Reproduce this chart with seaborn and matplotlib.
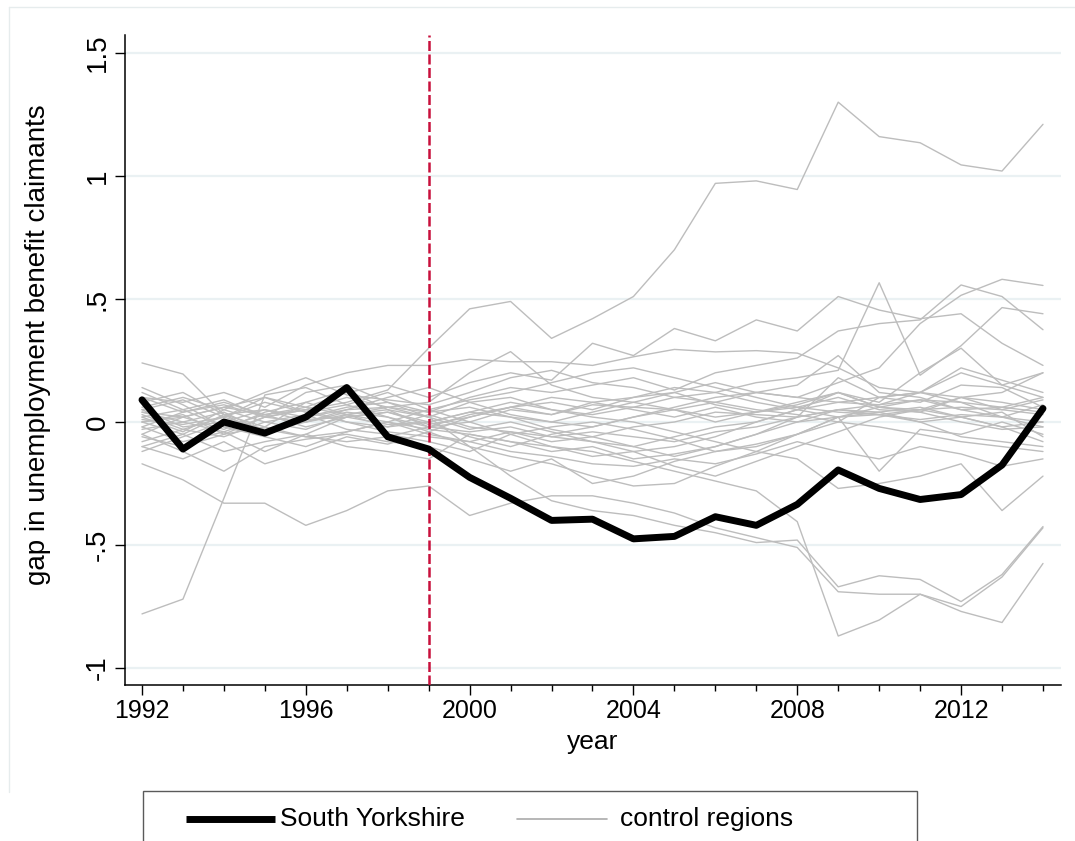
import matplotlib
matplotlib.use("Agg")
import matplotlib.pyplot as plt
from matplotlib.patches import Rectangle
from matplotlib.lines import Line2D
from matplotlib.ticker import MultipleLocator
import numpy as np
import pandas as pd
import seaborn as sns

# years covered
years = list(range(1992, 2015))

# treated region
south_yorkshire = [0.09, -0.11, 0.0, -0.045, 0.02, 0.14, -0.06, -0.11, -0.225, -0.31, -0.40, -0.395,
                   -0.475, -0.465, -0.385, -0.42, -0.335, -0.195, -0.27, -0.315, -0.295, -0.175, 0.055]

# placebo gaps for the control regions
control_gaps = [
    [0.04, 0.02, 0.06, 0.03, 0.05, 0.08, 0.13, 0.30, 0.46, 0.49, 0.34, 0.42, 0.51, 0.70, 0.97, 0.98, 0.945, 1.30, 1.16, 1.135, 1.045, 1.02, 1.21],
    [-0.78, -0.72, -0.31, 0.11, 0.14, 0.07, 0.02, -0.04, 0.02, 0.06, 0.03, 0.08, 0.10, 0.12, 0.07, 0.04, 0.08, 0.12, 0.06, 0.09, 0.05, 0.02, 0.07],
    [-0.17, -0.235, -0.33, -0.33, -0.42, -0.36, -0.28, -0.26, -0.38, -0.33, -0.30, -0.30, -0.33, -0.37, -0.43, -0.47, -0.51, -0.69, -0.70, -0.70, -0.75, -0.63, -0.43],
    [0.24, 0.195, 0.03, -0.05, 0.02, 0.06, 0.08, 0.02, -0.10, -0.22, -0.32, -0.36, -0.38, -0.42, -0.45, -0.49, -0.48, -0.67, -0.625, -0.64, -0.73, -0.62, -0.425],
    [-0.10, -0.05, -0.12, -0.08, -0.05, -0.10, -0.12, -0.15, -0.05, -0.08, -0.10, -0.12, -0.16, -0.20, -0.24, -0.28, -0.405, -0.87, -0.805, -0.70, -0.77, -0.815, -0.575],
    [0.05, 0.09, 0.02, 0.10, 0.06, 0.12, 0.15, 0.10, 0.16, 0.20, 0.17, 0.32, 0.27, 0.38, 0.33, 0.415, 0.37, 0.51, 0.455, 0.42, 0.44, 0.32, 0.23],
    [0.10, 0.08, 0.12, 0.06, 0.15, 0.20, 0.23, 0.23, 0.255, 0.245, 0.245, 0.23, 0.265, 0.295, 0.285, 0.29, 0.28, 0.22, 0.14, 0.12, 0.10, 0.05, 0.09],
    [0.00, -0.05, 0.03, 0.05, 0.00, 0.04, 0.02, -0.02, 0.03, 0.06, 0.08, 0.05, 0.10, 0.14, 0.12, 0.16, 0.18, 0.21, 0.566, 0.19, 0.31, 0.465, 0.44],
    [-0.05, 0.02, -0.03, 0.04, 0.08, 0.03, 0.06, 0.04, 0.10, 0.14, 0.12, 0.15, 0.18, 0.13, 0.20, 0.23, 0.26, 0.37, 0.40, 0.415, 0.557, 0.51, 0.375],
    [0.02, -0.04, 0.05, 0.00, -0.03, 0.03, 0.05, -0.02, 0.00, 0.05, 0.03, 0.07, 0.06, 0.10, 0.08, 0.12, 0.10, 0.16, 0.22, 0.40, 0.515, 0.58, 0.555],
    [0.12, 0.05, 0.09, 0.02, 0.05, 0.10, 0.06, 0.08, 0.20, 0.286, 0.15, 0.10, 0.08, 0.05, 0.02, 0.04, 0.07, 0.12, 0.06, 0.04, 0.10, 0.08, 0.05],
    [0.14, 0.07, -0.02, -0.06, -0.10, -0.04, 0.00, -0.03, -0.05, -0.08, -0.12, -0.10, -0.15, -0.13, -0.10, -0.05, 0.02, 0.05, 0.07, 0.12, 0.20, 0.15, 0.10],
    [-0.10, -0.15, -0.08, -0.17, -0.12, -0.06, -0.09, -0.04, -0.10, -0.14, -0.17, -0.22, -0.26, -0.25, -0.18, -0.12, -0.05, 0.02, 0.06, 0.05, 0.10, 0.12, 0.20],
    [0.08, 0.12, 0.03, -0.02, 0.08, 0.13, 0.05, 0.02, 0.08, 0.10, 0.05, 0.02, 0.00, -0.04, -0.08, -0.12, -0.15, -0.27, -0.25, -0.22, -0.17, -0.36, -0.22],
    [0.00, 0.03, -0.05, 0.02, 0.05, 0.00, -0.02, 0.03, -0.02, -0.04, -0.08, -0.06, -0.10, -0.14, -0.10, -0.05, 0.00, 0.02, -0.20, -0.03, -0.05, 0.00, -0.05],
    [-0.03, 0.00, 0.04, -0.04, 0.00, 0.03, -0.02, 0.00, -0.06, -0.10, -0.05, -0.02, 0.02, 0.05, 0.00, 0.04, 0.06, 0.10, 0.05, 0.04, 0.00, -0.03, -0.02],
    [0.05, -0.02, 0.00, 0.05, 0.02, 0.05, 0.06, 0.02, -0.03, 0.00, -0.04, -0.08, -0.10, -0.06, -0.02, 0.00, 0.05, 0.08, 0.10, 0.12, 0.22, 0.17, 0.12],
    [-0.05, -0.12, -0.20, -0.10, -0.07, -0.05, -0.08, -0.10, -0.15, -0.20, -0.15, -0.25, -0.22, -0.16, -0.12, -0.09, -0.05, 0.00, -0.02, -0.05, -0.08, -0.10, -0.12],
    [0.02, 0.05, -0.02, 0.03, 0.06, 0.03, 0.00, 0.05, 0.09, 0.12, 0.16, 0.20, 0.22, 0.18, 0.14, 0.10, 0.06, 0.04, 0.03, 0.05, 0.06, 0.05, 0.03],
    [-0.02, 0.04, 0.08, 0.03, -0.02, 0.02, 0.04, -0.01, 0.02, 0.06, 0.10, 0.08, 0.05, 0.02, 0.06, 0.02, 0.00, 0.05, 0.04, 0.06, 0.02, 0.04, -0.06],
    [0.03, -0.03, 0.02, 0.08, 0.04, 0.00, -0.04, -0.06, -0.08, -0.12, -0.14, -0.17, -0.18, -0.15, -0.17, -0.13, -0.08, -0.12, -0.15, -0.10, -0.13, -0.18, -0.15],
    [0.06, 0.10, 0.05, 0.12, 0.18, 0.11, 0.09, 0.07, 0.12, 0.18, 0.21, 0.16, 0.14, 0.10, 0.12, 0.08, 0.05, 0.02, 0.03, 0.00, 0.02, -0.02, 0.00],
    [-0.08, -0.03, -0.06, 0.00, 0.03, -0.03, -0.05, -0.08, -0.12, -0.05, -0.02, 0.00, -0.03, -0.07, -0.12, -0.10, -0.05, 0.02, 0.04, 0.00, -0.06, -0.08, -0.10],
    [0.10, 0.04, 0.07, 0.02, 0.00, 0.05, 0.10, 0.14, 0.08, 0.03, 0.00, 0.04, 0.08, 0.12, 0.16, 0.12, 0.10, 0.08, 0.07, 0.09, 0.08, 0.06, 0.10],
    [-0.02, -0.08, -0.04, -0.12, -0.05, 0.02, 0.04, 0.00, 0.04, 0.08, 0.05, 0.03, 0.06, 0.05, 0.08, 0.05, 0.03, 0.00, 0.10, 0.12, 0.08, 0.02, -0.02],
    [0.00, 0.02, 0.06, 0.10, 0.04, 0.07, 0.12, 0.05, 0.00, -0.05, -0.10, -0.14, -0.12, -0.18, -0.22, -0.16, -0.10, -0.04, 0.02, 0.05, 0.02, -0.02, -0.08],
    [0.04, 0.00, -0.04, 0.02, 0.12, 0.15, 0.08, 0.04, 0.06, 0.02, -0.03, -0.06, -0.02, 0.00, 0.04, 0.03, 0.02, 0.05, 0.03, 0.01, 0.03, 0.02, 0.00],
    [-0.06, -0.10, -0.05, -0.02, -0.06, -0.04, 0.00, -0.05, -0.08, -0.04, -0.06, -0.08, -0.12, -0.10, -0.06, 0.00, 0.05, 0.12, 0.08, 0.20, 0.30, 0.15, 0.20],
    [0.01, -0.01, 0.02, -0.03, 0.01, 0.02, -0.01, 0.00, 0.04, 0.02, 0.00, -0.02, 0.02, 0.06, 0.10, 0.12, 0.15, 0.27, 0.12, 0.10, 0.05, 0.06, 0.04],
    [-0.12, -0.06, 0.00, -0.03, -0.06, -0.08, -0.06, -0.02, -0.04, -0.02, -0.06, -0.04, -0.06, -0.08, -0.04, -0.02, 0.02, 0.18, 0.10, 0.08, 0.15, 0.14, 0.06],
]

treatment_year = 1999
y_ticks = [-1, -0.5, 0, 0.5, 1, 1.5]
y_tick_labels = ["-1", "-.5", "0", ".5", "1", "1.5"]
x_ticks = [1992, 1996, 2000, 2004, 2008, 2012]

# long format for seaborn
ctrl_df = pd.DataFrame(
    [(i, yr, v) for i, row in enumerate(control_gaps) for yr, v in zip(years, row)],
    columns=["region", "year", "gap"],
)
sy_df = pd.DataFrame({"year": years, "gap": south_yorkshire})

sns.set_style("white")
plt.rcParams["font.family"] = ["Liberation Sans", "DejaVu Sans"]
plt.rcParams["text.color"] = "black"
plt.rcParams["axes.labelcolor"] = "black"
plt.rcParams["xtick.color"] = "black"
plt.rcParams["ytick.color"] = "black"

fig = plt.figure(figsize=(10.75, 8.41), dpi=100)
W, H = 1075, 841
ax = fig.add_axes([125 / W, 1 - 685 / H, 936 / W, 650 / H])

# faint outer graph-region frame (left and top edges only are visible)
frame_col = "#e6eced"
fig.lines.append(Line2D([9 / W, 9 / W], [1 - 7 / H, 1 - 792 / H], transform=fig.transFigure,
                        color=frame_col, linewidth=1.0, zorder=0))
fig.lines.append(Line2D([9 / W, 1.0], [1 - 7 / H, 1 - 7 / H], transform=fig.transFigure,
                        color=frame_col, linewidth=1.0, zorder=0))

sns.lineplot(data=ctrl_df, x="year", y="gap", units="region", estimator=None,
             color="#bdbdbd", linewidth=1.0, ax=ax, legend=False, zorder=2)
ax.axvline(treatment_year, color="#c8103c", linewidth=1.8, linestyle=(0, (4, 1.4)), zorder=3)
sns.lineplot(data=sy_df, x="year", y="gap", color="black", linewidth=5.0, ax=ax,
             legend=False, zorder=4)

ax.set_xlim(1991.585, 2014.44)
ax.set_ylim(-1.069, 1.573)

ax.set_yticks(y_ticks)
ax.set_yticklabels(y_tick_labels, rotation=90, va="center", fontsize=20)
ax.set_xticks(x_ticks)
ax.set_xticklabels([str(x) for x in x_ticks], fontsize=18)
ax.xaxis.set_minor_locator(MultipleLocator(1))
ax.tick_params(axis="y", which="major", direction="out", length=7, width=1, color="black",
               left=True, pad=3.5, labelcolor="black")
ax.tick_params(axis="x", which="major", direction="out", length=7, width=1, color="black",
               bottom=True, pad=3, labelcolor="black")
ax.tick_params(axis="x", which="minor", direction="out", length=4, width=1, color="black",
               bottom=True)

ax.grid(axis="y", color="#eaf1f3", linewidth=1.6)
ax.grid(axis="x", visible=False)
ax.set_axisbelow(True)
for side in ["top", "right"]:
    ax.spines[side].set_visible(False)
for side in ["left", "bottom"]:
    ax.spines[side].set_color("black")
    ax.spines[side].set_linewidth(1.1)

ax.set_ylabel("gap in unemployment benefit claimants", fontsize=20, color="black")
ax.yaxis.set_label_coords(-0.079, 0.523)
ax.set_xlabel("year", fontsize=19, color="black")
ax.xaxis.set_label_coords(0.5, -0.069)

# legend box along the bottom (Stata style, running off the canvas)
fig.patches.append(Rectangle((143 / W, -0.05), 774 / W, (841 - 791) / H + 0.05,
                             transform=fig.transFigure, fill=False,
                             edgecolor="#5a5a5a", linewidth=1.0))
ly = 1 - 819 / H
fig.lines.append(Line2D([186 / W, 275 / W], [ly, ly], transform=fig.transFigure,
                        color="black", linewidth=5.0, solid_capstyle="butt"))
fig.lines.append(Line2D([517 / W, 607 / W], [ly, ly], transform=fig.transFigure,
                        color="#aaaaaa", linewidth=1.2))
fig.text(280 / W, ly, "South Yorkshire", fontsize=19, va="center", ha="left", color="black")
fig.text(620 / W, ly, "control regions", fontsize=19, va="center", ha="left", color="black")

fig.savefig("out.png", dpi=100)
